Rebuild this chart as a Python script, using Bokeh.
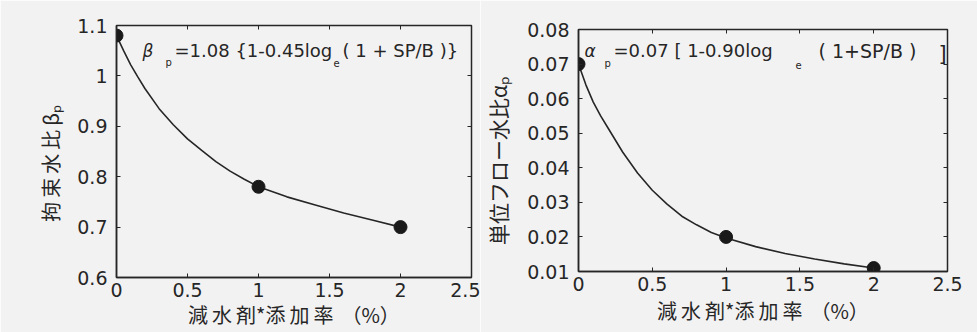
from bokeh.plotting import figure
from bokeh.layouts import row, column
from bokeh.models import FixedTicker, Label, LinearAxis
from bokeh.embed import file_html
from bokeh.resources import INLINE

# ---- data ----
dose_pts = [0, 1, 2]
beta_pts = [1.08, 0.78, 0.70]
alpha_pts = [0.070, 0.020, 0.011]

beta_curve_x = [0, 0.05, 0.1, 0.15, 0.2, 0.3, 0.4, 0.5, 0.6, 0.7, 0.8, 0.9, 1.0, 1.2, 1.4, 1.6, 1.8, 2.0]
beta_curve_y = [1.08, 1.05, 1.022, 0.998, 0.975, 0.935, 0.903, 0.875, 0.852, 0.83, 0.811, 0.795, 0.78,
                0.76, 0.744, 0.728, 0.714, 0.70]
alpha_curve_x = [0, 0.05, 0.1, 0.15, 0.2, 0.3, 0.4, 0.5, 0.6, 0.7, 0.8, 0.9, 1.0, 1.2, 1.4, 1.6, 1.8, 2.0]
alpha_curve_y = [0.070, 0.064, 0.059, 0.055, 0.0515, 0.0445, 0.0385, 0.0335, 0.0295, 0.026, 0.0235, 0.0213,
                 0.0197, 0.0172, 0.0152, 0.0136, 0.0122, 0.011]

x_ticks = [0, 0.5, 1, 1.5, 2, 2.5]
x_tick_labels = ["0", "0.5", "1", "1.5", "2", "2.5"]
beta_ticks = [0.6, 0.7, 0.8, 0.9, 1.0, 1.1]
beta_tick_labels = ["0.6", "0.7", "0.8", "0.9", "1", "1.1"]
alpha_ticks = [0.01, 0.02, 0.03, 0.04, 0.05, 0.06, 0.07, 0.08]
alpha_tick_labels = ["0.01", "0.02", "0.03", "0.04", "0.05", "0.06", "0.07", "0.08"]

TS = "\u2009"  # thin space, to mimic the wide letter spacing of the original
x_title = TS.join("減水剤") + "*" + TS.join("添加率") + TS + TS + "（%）"
beta_title = TS.join("拘束水比") + TS + "β\u209a\u3000\u2009"
alpha_title = "単位フロー水比α\u209a\u3000"

BG = "#f3f2f2"
INK = "#262626"
NUM_FONT = "DejaVu Sans"
JP_FONT = "Noto Sans CJK JP"


def make_fig(width, height, ylo, yhi, yticks, ylabels, mbl, mbr, mbt, mbb):
    p = figure(width=width, height=height, x_range=(0, 2.5), y_range=(ylo, yhi),
               output_backend="svg", toolbar_location=None,
               min_border_left=mbl, min_border_right=mbr, min_border_top=mbt, min_border_bottom=mbb)
    p.background_fill_color = BG
    p.border_fill_color = BG
    p.grid.visible = False
    p.outline_line_color = INK
    p.outline_line_width = 1.5
    xa = p.below[0]
    ya = p.left[0]
    xa.ticker = FixedTicker(ticks=x_ticks)
    xa.major_label_overrides = {t: l for t, l in zip(x_ticks, x_tick_labels)}
    ya.ticker = FixedTicker(ticks=yticks)
    ya.major_label_overrides = {t: l for t, l in zip(yticks, ylabels)}
    for ax in (xa, ya):
        ax.axis_line_color = INK
        ax.axis_line_width = 1.5
        ax.major_tick_in = 4
        ax.major_tick_out = 0
        ax.major_tick_line_color = INK
        ax.minor_tick_line_color = None
        ax.major_label_text_font = NUM_FONT
        ax.major_label_text_font_size = "19px"
        ax.major_label_text_color = INK
        ax.axis_label_text_font = JP_FONT
        ax.axis_label_text_font_style = "normal"
        ax.axis_label_text_color = INK
    xa.major_label_standoff = 5
    ya.major_label_standoff = 9
    xa.axis_label_text_font_size = "20px"
    # inner ticks on top and right frame edges
    for loc, ticks in (("right", yticks), ("above", x_ticks)):
        ax = LinearAxis(ticker=FixedTicker(ticks=ticks), major_tick_in=4, major_tick_out=0,
                        major_label_text_font_size="0px", axis_line_color=None,
                        major_tick_line_color=INK, minor_tick_line_color=None,
                        major_label_standoff=0)
        p.add_layout(ax, loc)
    return p, xa, ya


def lbl(p, x, y, text, size, style="normal", align="left"):
    p.add_layout(Label(x=x, y=y, text=text, text_font=NUM_FONT, text_font_size=size, text_color=INK,
                       text_font_style=style, text_align=align, text_baseline="middle"))


# ---------- left panel ----------
p1, xa1, ya1 = make_fig(480, 332, 0.6, 1.1, beta_ticks, beta_tick_labels, 116, 9, 25, 55)
xa1.axis_label = x_title
xa1.axis_label_standoff = 0
ya1.axis_label = beta_title
ya1.axis_label_standoff = 9
ya1.axis_label_text_font_size = "20px"
p1.line(beta_curve_x, beta_curve_y, line_color=INK, line_width=1.6)
p1.scatter(dose_pts, beta_pts, size=13, fill_color="#1a1a1a", line_color="#1a1a1a")


def lx(px):
    return (px - 116) / (355 / 2.5)


def ly(py):
    return 1.1 - (py - 25) / (252 / 0.5)


lbl(p1, lx(142), ly(50), "β", "17px", style="italic")
lbl(p1, lx(165), ly(62), "p", "10px")
lbl(p1, lx(174), ly(50), "=1.08 {1-0.45log", "18px")
lbl(p1, lx(333), ly(62), "e", "10px")
lbl(p1, lx(342), ly(50), "( 1 + SP/B )}", "18px")

# ---------- right panel ----------
p2, xa2, ya2 = make_fig(497, 332, 0.01, 0.08, alpha_ticks, alpha_tick_labels, 98, 30, 29, 61)
xa2.axis_label = x_title
xa2.axis_label_standoff = 2
ya2.axis_label = alpha_title
ya2.axis_label_standoff = 11
ya2.axis_label_text_font_size = "21px"
p2.line(alpha_curve_x, alpha_curve_y, line_color=INK, line_width=1.6)
p2.scatter(dose_pts, alpha_pts, size=13, fill_color="#1a1a1a", line_color="#1a1a1a")


def rx(px):
    return (px - 578) / (369 / 2.5)


def ry(py):
    return 0.08 - (py - 29) / (242 / 0.07)


lbl(p2, rx(584), ry(50), "α", "17px", style="italic")
lbl(p2, rx(604), ry(63), "p", "10px")
lbl(p2, rx(613), ry(50), "=0.07  [ 1-0.90log", "18px")
lbl(p2, rx(795), ry(64), "e", "10px")
lbl(p2, rx(818), ry(50), "( 1+SP/B )", "19px")
lbl(p2, rx(938), ry(53), "]", "21px")

layout = row(column(p1), column(p2))
open("out.html", "w").write(file_html(layout, INLINE))
